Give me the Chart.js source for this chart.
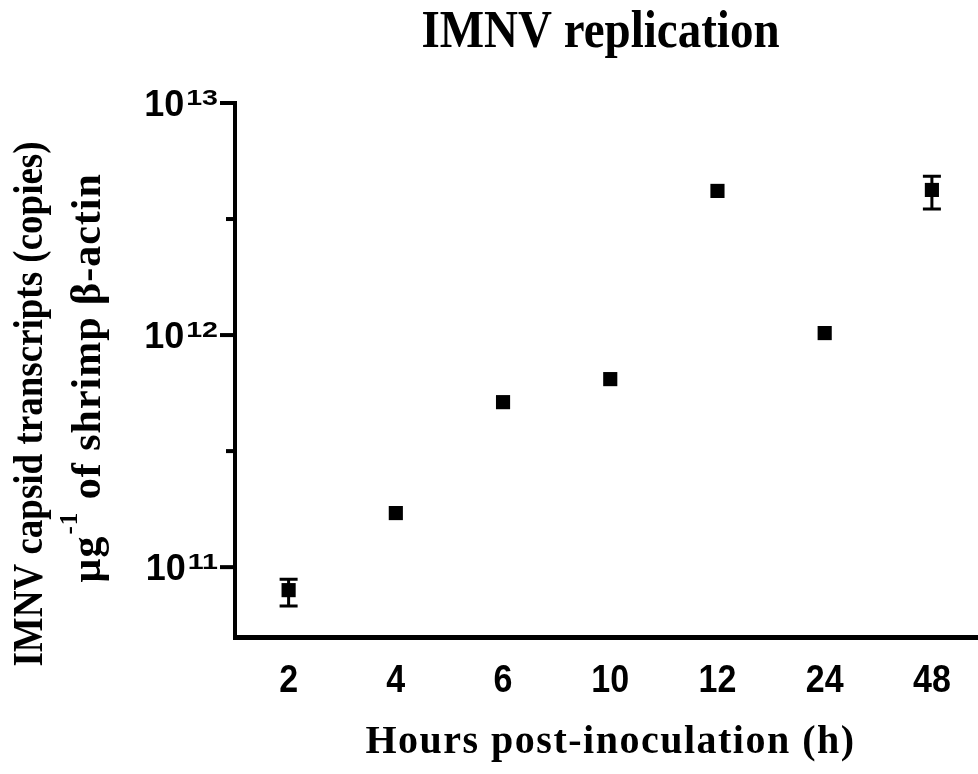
<!DOCTYPE html>
<html>
<head>
<meta charset="utf-8">
<script src="https://cdn.jsdelivr.net/npm/chart.js@4"></script>
<style>
html, body { margin: 0; padding: 0; background: #fff; overflow: hidden; }
canvas { display: block; }
</style>
</head>
<body>
<canvas id="main-chart" width="978" height="774"></canvas>
<script>
// data
const hours = ['2', '4', '6', '10', '12', '24', '48'];
const copies = [7.96e10, 1.71e11, 5.14e11, 6.46e11, 4.18e12, 1.02e12, 4.22e12];
const errLow = [6.8e10, null, null, null, null, null, 3.49e12];
const errHigh = [8.87e10, null, null, null, null, null, 4.84e12];

const yMajorTicks = [1e11, 1e12, 1e13];
const yMajorExp = ['11', '12', '13'];
const yMinorTicks = [Math.pow(10, 11.5), Math.pow(10, 12.5)];

const titleText = 'IMNV replication';
const xTitle = 'Hours post-inoculation (h)';
const yTitle1 = 'IMNV capsid transcripts (copies)';
const yTitle2 = ['\u00b5g', '-1', ' of shrimp \u03b2-actin'];

const SERIF = "'Liberation Serif', 'Times New Roman', serif";
const SANS = "'Liberation Sans', Arial, sans-serif";

// categories are evenly spaced; the plot is cut off a bit on the right
const points = hours.map((h, i) => ({ x: i, y: copies[i] }));

function txt(ctx, s, x, y, o) {
    ctx.save();
    ctx.translate(x, y);
    if (o.rot) ctx.rotate(o.rot);
    ctx.scale(o.sx || 1, o.sy || 1);
    ctx.font = o.font;
    ctx.letterSpacing = o.ls || '0px';
    ctx.textAlign = o.align || 'center';
    ctx.textBaseline = 'alphabetic';
    ctx.fillStyle = '#000';
    ctx.fillText(s, 0, 0);
    ctx.restore();
}

const decorations = {
    id: 'decorations',
    afterDatasetsDraw(chart) {
        const ctx = chart.ctx;
        const xs = chart.scales.x;
        const ys = chart.scales.y;

        // error bars
        ctx.save();
        ctx.strokeStyle = '#000';
        ctx.lineWidth = 3;
        copies.forEach((v, i) => {
            if (errLow[i] == null) return;
            const px = xs.getPixelForValue(i);
            const lo = ys.getPixelForValue(errLow[i]);
            const hi = ys.getPixelForValue(errHigh[i]);
            ctx.beginPath();
            ctx.moveTo(px, lo); ctx.lineTo(px, hi);
            ctx.moveTo(px - 9, lo); ctx.lineTo(px + 9, lo);
            ctx.moveTo(px - 9, hi); ctx.lineTo(px + 9, hi);
            ctx.stroke();
        });
        ctx.restore();
    },
    afterDraw(chart) {
        const ctx = chart.ctx;
        const xs = chart.scales.x;
        const ys = chart.scales.y;
        const area = chart.chartArea;

        // y tick marks
        ctx.save();
        ctx.strokeStyle = '#000';
        ctx.lineWidth = 4;
        yMajorTicks.forEach(v => {
            const py = ys.getPixelForValue(v);
            ctx.beginPath(); ctx.moveTo(area.left - 15, py); ctx.lineTo(area.left, py); ctx.stroke();
        });
        yMinorTicks.forEach(v => {
            const py = ys.getPixelForValue(v);
            ctx.beginPath(); ctx.moveTo(area.left - 9, py); ctx.lineTo(area.left, py); ctx.stroke();
        });
        ctx.restore();

        // y tick labels 10^n
        yMajorTicks.forEach((v, i) => {
            const py = ys.getPixelForValue(v);
            const right = area.left - 17;
            ctx.font = 'bold 22px ' + SANS;
            const ws = ctx.measureText(yMajorExp[i]).width * 1.3;
            txt(ctx, yMajorExp[i], right, py + 2, {font: 'bold 22px ' + SANS, align: 'right', sx: 1.3});
            txt(ctx, '10', right - ws - 2, py + 13, {font: 'bold 36px ' + SANS, align: 'right'});
        });

        // x tick labels
        hours.forEach((h, i) => {
            const px = xs.getPixelForValue(i);
            txt(ctx, h, px, area.bottom + 55, {font: 'bold 34px ' + SANS, sy: 1.15});
        });

        // title
        const cx = (area.left + area.right) / 2;
        txt(ctx, titleText, cx - 6, 47, {font: 'bold 47px ' + SERIF, sy: 1.13});

        // x title
        txt(ctx, xTitle, cx + 4, 753, {font: 'bold 40px ' + SERIF, ls: '1.5px'});

        // y title line 1
        txt(ctx, yTitle1, 42, 404, {font: 'bold 37px ' + SERIF, rot: -Math.PI / 2, sy: 1.15});

        // y title line 2 with superscript
        ctx.save();
        ctx.translate(100, 378);
        ctx.rotate(-Math.PI / 2);
        ctx.fillStyle = '#000';
        ctx.textBaseline = 'alphabetic';
        ctx.textAlign = 'left';
        ctx.letterSpacing = '1px';
        const mainFont = 'bold 42px ' + SERIF;
        const supFont = 'bold 25px ' + SERIF;
        ctx.font = mainFont;
        const w1 = ctx.measureText(yTitle2[0]).width;
        const w3 = ctx.measureText(yTitle2[2]).width;
        ctx.font = supFont;
        const w2 = ctx.measureText(yTitle2[1]).width;
        const total = w1 + w2 + w3 + 2;
        const x0 = -total / 2;
        ctx.font = mainFont;
        ctx.fillText(yTitle2[0], x0, 0);
        ctx.font = supFont;
        ctx.fillText(yTitle2[1], x0 + w1 + 1, -23);
        ctx.font = mainFont;
        ctx.fillText(yTitle2[2], x0 + w1 + w2 + 2, 0);
        ctx.restore();
    }
};

const config = {
    type: 'scatter',
    data: {
        datasets: [{
            label: 'IMNV',
            data: points,
            pointStyle: 'rect',
            pointRadius: 10,
            pointHoverRadius: 10,
            pointBorderWidth: 0,
            pointBackgroundColor: '#000',
            borderColor: '#000',
            clip: false
        }]
    },
    options: {
        responsive: false,
        animation: false,
        layout: { autoPadding: false, padding: { top: 103, left: 0, right: 0, bottom: 0 } },
        plugins: { legend: { display: false }, title: { display: false }, tooltip: { enabled: false } },
        scales: {
            x: {
                type: 'linear',
                min: -0.5,
                max: 6.43,
                grid: { display: false },
                border: { display: true, color: '#000', width: 5 },
                ticks: { display: false },
                afterFit(scale) { scale.height = 137; }
            },
            y: {
                type: 'logarithmic',
                min: 5e10,
                max: 1e13,
                grid: { display: false },
                border: { display: true, color: '#000', width: 4 },
                ticks: { display: false },
                afterFit(scale) { scale.width = 235; }
            }
        }
    },
    plugins: [decorations]
};

const myChart = new Chart(document.getElementById('main-chart'), config);
</script>
</body>
</html>
